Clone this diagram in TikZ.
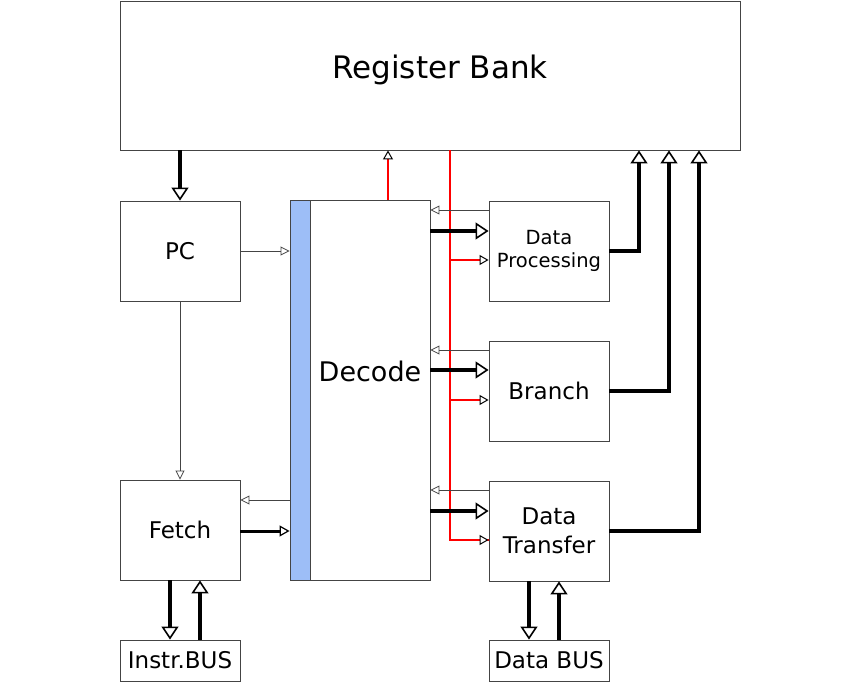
\documentclass[tikz,border=0pt]{standalone}
\usepackage{fontspec}
\setmainfont{DejaVu Sans}
\usetikzlibrary{arrows.meta}
\definecolor{boxline}{HTML}{444444}
\definecolor{stripblue}{HTML}{9DBEF7}
\tikzset{
  blk/.style={draw=boxline, line width=0.9pt, fill=white, inner sep=0pt, align=center},
  thin/.style={draw=boxline, line width=0.9pt, -{Triangle[open, length=9pt, width=9pt, line width=0.8pt]}},
  thick/.style={draw=black, line width=3.6pt, -{Triangle[open, length=13pt, width=17pt, line width=1.6pt]}},
  mid/.style={draw=black, line width=3pt, -{Triangle[open, length=10pt, width=11pt, line width=1.2pt]}},
  redline/.style={draw=red, line width=2pt},
  redarr/.style={draw=red, line width=2pt, -{Triangle[length=9pt, width=10pt, line width=1pt, fill=white, color=black]}},
}
\begin{document}
\begin{tikzpicture}[x=1pt, y=-1pt]
\useasboundingbox (0,0) rectangle (860,682);
% blocks
\node[blk, minimum width=620pt, minimum height=149pt] (rb) at (430,75.5) {};
\node[font=\fontsize{31}{36}\selectfont] (rbtext) at (440,70) {Register Bank};
\node[blk, minimum width=120pt, minimum height=100pt, font=\fontsize{23}{27}\selectfont] (pc) at (180,251) {PC};
\node[blk, minimum width=120pt, minimum height=100pt, font=\fontsize{23}{27}\selectfont] (fetch) at (180,530) {\raisebox{-2pt}{Fetch}};
\node[blk, minimum width=140pt, minimum height=380pt] (dec) at (360,390) {};
\node[draw=boxline, line width=0.9pt, fill=stripblue, minimum width=20pt, minimum height=380pt, inner sep=0pt] (strip) at (300,390) {};
\node[font=\fontsize{27}{32}\selectfont] (dectext) at (370,371) {Decode};
\node[blk, minimum width=120pt, minimum height=100pt, font=\fontsize{19.5}{25}\selectfont] (dp) at (549,251) {Data\\[-2pt]Processing};
\node[blk, minimum width=120pt, minimum height=100pt, font=\fontsize{23}{27}\selectfont] (br) at (549,391) {\raisebox{-2pt}{Branch}};
\node[blk, minimum width=120pt, minimum height=100pt, font=\fontsize{23}{29}\selectfont] (dt) at (549,531) {Data\\Transfer};
\node[blk, minimum width=120pt, minimum height=41pt, font=\fontsize{23}{27}\selectfont] (ib) at (180,660.5) {Instr.BUS};
\node[blk, minimum width=120pt, minimum height=41pt, font=\fontsize{23}{27}\selectfont] (db) at (549,660.5) {Data BUS};
% register bank to PC
\draw[thick] (rb.south -| pc.north) -- (pc.north);
% PC to fetch
\draw[thin] (pc.south) -- (fetch.north);
% PC to decode strip
\draw[thin] (pc.east) -- (pc.east -| strip.west);
% decode to register bank (red)
\draw[redarr] (dec.north -| 388,0) -- (rb.south -| 388,0);
% fetch <-> decode
\draw[thin] (strip.west |- 0,500) -- (fetch.east |- 0,500);
\draw[mid] (fetch.east |- 0,531) -- (strip.west |- 0,531);
% red trunk
\coordinate (rtop) at (450,150);
\draw[redline] (rb.south -| rtop) |- (dt.west |- 0,540);
\draw[redarr] (450,540) -- (dt.west |- 0,540);
\draw[redarr] (450,260) -- (dp.west |- 0,260);
\draw[redarr] (450,400) -- (br.west |- 0,400);
% thin feedback arrows to decode
\draw[thin] (dp.west |- 0,210) -- (dec.east |- 0,210);
\draw[thin] (br.west |- 0,350) -- (dec.east |- 0,350);
\draw[thin] (dt.west |- 0,490) -- (dec.east |- 0,490);
% thick decode to units
\draw[thick] (dec.east |- 0,231) -- (dp.west |- 0,231);
\draw[thick] (dec.east |- 0,370) -- (br.west |- 0,370);
\draw[thick] (dec.east |- 0,511) -- (dt.west |- 0,511);
% units to register bank
\draw[thick] (dp.east |- 0,251) -| (rb.south -| 639,0);
\draw[thick] (br.east |- 0,391) -| (rb.south -| 669,0);
\draw[thick] (dt.east |- 0,531) -| (rb.south -| 699,0);
% buses
\draw[thick] (fetch.south -| 170,0) -- (ib.north -| 170,0);
\draw[thick] (ib.north -| 200,0) -- (fetch.south -| 200,0);
\draw[thick] (dt.south -| 529,0) -- (db.north -| 529,0);
\draw[thick] (db.north -| 559,0) -- (dt.south -| 559,0);
\end{tikzpicture}
\end{document}
